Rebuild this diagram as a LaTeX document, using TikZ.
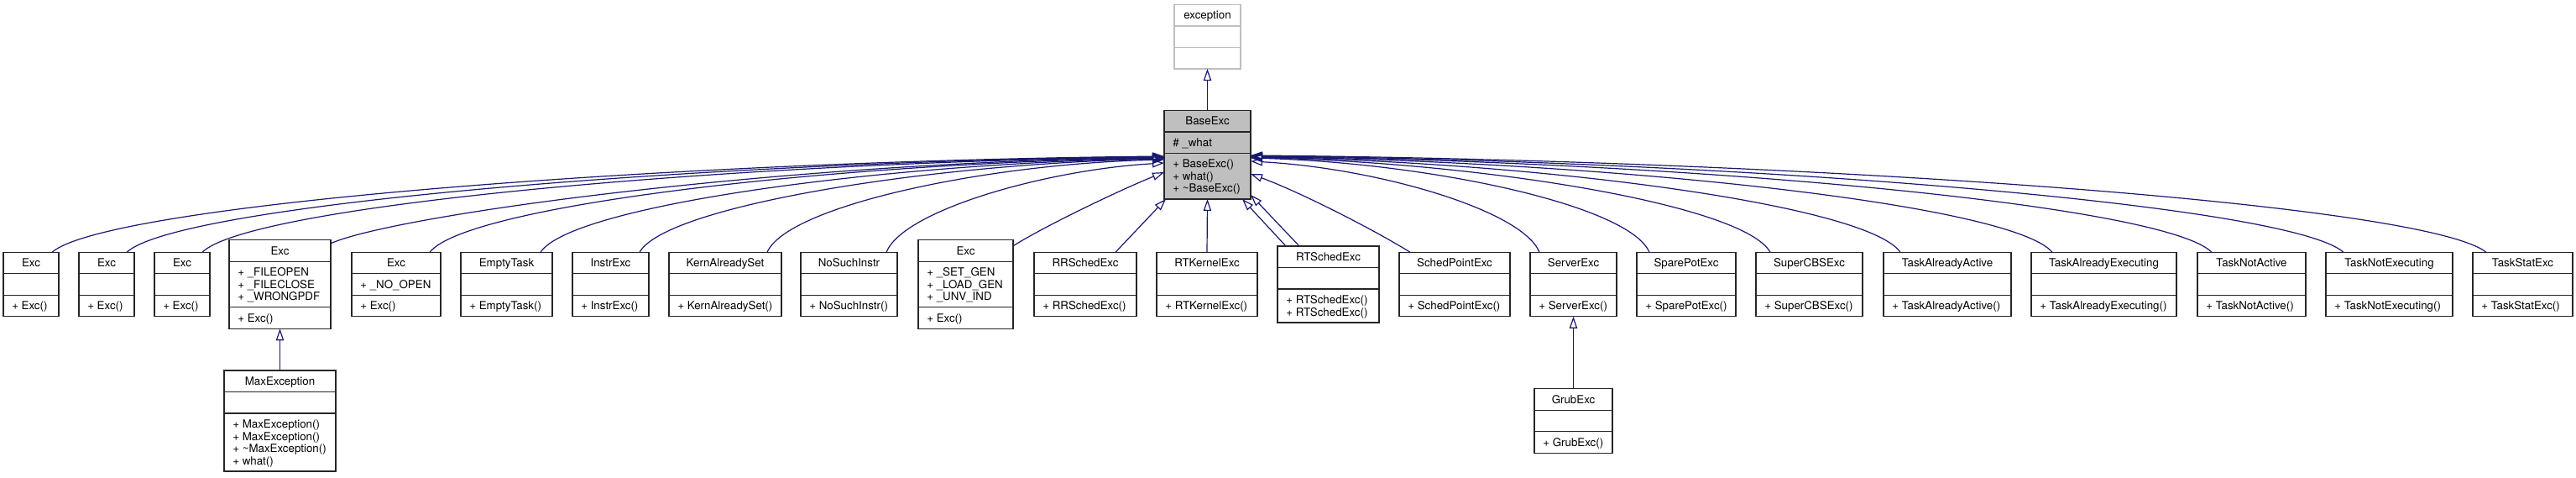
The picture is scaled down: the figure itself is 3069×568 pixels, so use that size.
\documentclass[tikz,border=0pt]{standalone}
\usepackage{fontspec}
\setmainfont{TeX Gyre Heros}
\usetikzlibrary{arrows.meta,calc}
\definecolor{edgeblue}{HTML}{191970}
\definecolor{grayfill}{HTML}{BFBFBF}
\tikzset{
  classbox/.style={draw=black!85, fill=white, line width=1pt, inner sep=0pt, outer sep=0pt},
  classline/.style={draw=black!85, line width=1pt},
  ghostbox/.style={draw=grayfill},
  basebox/.style={fill=grayfill},
  titletext/.style={anchor=base, inner sep=0pt, font=\fontsize{10}{12}\selectfont},
  linetext/.style={anchor=base west, inner sep=0pt, font=\fontsize{10}{12}\selectfont},
  inh/.style={draw=edgeblue, line width=0.9pt, -{Triangle[open,length=10.5pt,width=7pt]}},
}
% #1 style, #2 name, #3 cx, #4 cy, #5 width, #6 n attr lines, #7 n method lines, #8 title
\newcommand{\umlbox}[8]{%
  \pgfmathsetmacro\hA{(#6==0) ? 25.5 : 11+14.5*#6}%
  \pgfmathsetmacro\hM{(#7==0) ? 25.5 : 11+14.5*#7}%
  \pgfmathsetmacro\hT{25.5+\hA+\hM}%
  \node[classbox,#1,minimum width=#5*0.75pt,minimum height=\hT*0.75pt] (#2) at (#3,#4) {};
  \coordinate (#2-a) at ($(#2.north west)+(0,25.5)$);
  \coordinate (#2-m) at ($(#2-a)+(0,\hA)$);
  \draw[classline,#1,fill=none] (#2-a) -- ++(#5,0);
  \draw[classline,#1,fill=none] (#2-m) -- ++(#5,0);
  \node[titletext] (#2-t) at ($(#2.north)+(0,17.5)$) {#8};
}
% #1 row coordinate, #2 list of lines
\newcommand{\umllines}[2]{%
  \foreach \ln [count=\i from 0] in {#2} {
    \node[linetext] (#1-\i) at ($(#1)+(10,17.5+14.5*\i)$) {\ln};
  }%
}
\begin{document}
\begin{tikzpicture}[x=0.75pt,y=-0.75pt]
\fill[white] (0,0) rectangle (3069,568);
\useasboundingbox (0,0) rectangle (3069,568);

% top
\umlbox{ghostbox}{exception}{1438.5}{43.7}{79}{0}{0}{exception}
\umlbox{basebox}{base}{1438.5}{184.2}{103}{1}{3}{BaseExc}
\umllines{base-a}{\#\ \_what}
\umllines{base-m}{+ BaseExc(), + what(), + \textasciitilde BaseExc()}

% row of children
\umlbox{}{exc1}{37}{338.5}{66}{0}{1}{Exc}
\umllines{exc1-m}{+ Exc()}
\umlbox{}{exc2}{127}{338.5}{66}{0}{1}{Exc}
\umllines{exc2-m}{+ Exc()}
\umlbox{}{exc3}{217}{338.5}{66}{0}{1}{Exc}
\umllines{exc3-m}{+ Exc()}
\umlbox{}{exc4}{333.5}{338.5}{121}{3}{1}{Exc}
\umllines{exc4-a}{+ \_FILEOPEN, + \_FILECLOSE, + \_WRONGPDF}
\umllines{exc4-m}{+ Exc()}
\umlbox{}{exc5}{472}{338.5}{106}{1}{1}{Exc}
\umllines{exc5-a}{+ \_NO\_OPEN}
\umllines{exc5-m}{+ Exc()}
\umlbox{}{emptytask}{603.5}{338.5}{109}{0}{1}{EmptyTask}
\umllines{emptytask-m}{+ EmptyTask()}
\umlbox{}{instrexc}{727.5}{338.5}{91}{0}{1}{InstrExc}
\umllines{instrexc-m}{+ InstrExc()}
\umlbox{}{kern}{864}{338.5}{134}{0}{1}{KernAlreadySet}
\umllines{kern-m}{+ KernAlreadySet()}
\umlbox{}{nosuch}{1011.5}{338.5}{115}{0}{1}{NoSuchInstr}
\umllines{nosuch-m}{+ NoSuchInstr()}
\umlbox{}{exc6}{1150.5}{338.5}{113}{3}{1}{Exc}
\umllines{exc6-a}{+ \_SET\_GEN, + \_LOAD\_GEN, + \_UNV\_IND}
\umllines{exc6-m}{+ Exc()}
\umlbox{}{rrsched}{1293}{338.5}{122}{0}{1}{RRSchedExc}
\umllines{rrsched-m}{+ RRSchedExc()}
\umlbox{}{rtkernel}{1438}{338.5}{120}{0}{1}{RTKernelExc}
\umllines{rtkernel-m}{+ RTKernelExc()}
\umlbox{}{rtsched}{1582.5}{338.5}{121}{0}{2}{RTSchedExc}
\umllines{rtsched-m}{+ RTSchedExc(), + RTSchedExc()}
\umlbox{}{schedpoint}{1733}{338.5}{132}{0}{1}{SchedPointExc}
\umllines{schedpoint-m}{+ SchedPointExc()}
\umlbox{}{server}{1874.5}{338.5}{103}{0}{1}{ServerExc}
\umllines{server-m}{+ ServerExc()}
\umlbox{}{sparepot}{2009}{338.5}{118}{0}{1}{SparePotExc}
\umllines{sparepot-m}{+ SparePotExc()}
\umlbox{}{supercbs}{2155.5}{338.5}{127}{0}{1}{SuperCBSExc}
\umllines{supercbs-m}{+ SuperCBSExc()}
\umlbox{}{taa}{2320}{338.5}{152}{0}{1}{TaskAlreadyActive}
\umllines{taa-m}{+ TaskAlreadyActive()}
\umlbox{}{tae}{2506.5}{338.5}{173}{0}{1}{TaskAlreadyExecuting}
\umllines{tae-m}{+ TaskAlreadyExecuting()}
\umlbox{}{tna}{2682.5}{338.5}{129}{0}{1}{TaskNotActive}
\umllines{tna-m}{+ TaskNotActive()}
\umlbox{}{tne}{2846.5}{338.5}{151}{0}{1}{TaskNotExecuting}
\umllines{tne-m}{+ TaskNotExecuting()}
\umlbox{}{tse}{3005.5}{338.5}{119}{0}{1}{TaskStatExc}
\umllines{tse-m}{+ TaskStatExc()}

% bottom row
\umlbox{}{maxexc}{333.5}{501}{133}{0}{4}{MaxException}
\umllines{maxexc-m}{+ MaxException(), + MaxException(), + \textasciitilde MaxException(), + what()}
\umlbox{}{grub}{1874.5}{501}{93}{0}{1}{GrubExc}
\umllines{grub-m}{+ GrubExc()}

% inheritance connectors
\draw[inh] (base.north) -- (exception.south);
\draw[inh] (maxexc.north) -- (exc4.south);
\draw[inh] (grub.north) -- (server.south);

\draw[inh] ($(exc1.north west)+(58,0)$) .. controls +(66,-57) and +(-596,6) .. ($(base.west)+(0,1.8)$);
\draw[inh] ($(exc2.north west)+(57,0)$) .. controls +(62,-57) and +(-556,6) .. ($(base.west)+(0,2.3)$);
\draw[inh] ($(exc3.north west)+(57,0)$) .. controls +(57,-56) and +(-516,6) .. ($(base.west)+(0,2.8)$);
\draw[inh] ($(exc4.north east)+(0,4)$) .. controls +(80,-35) and +(-447,5) .. ($(base.west)+(0,3.3)$);
\draw[inh] ($(exc5.north west)+(93,0)$) .. controls +(44,-56) and +(-394,6) .. ($(base.west)+(0,3.8)$);
\draw[inh] ($(emptytask.north east)+(-14,0)$) .. controls +(37,-56) and +(-334,6) .. ($(base.west)+(0,4.3)$);
\draw[inh] ($(instrexc.north east)+(-11,0)$) .. controls +(31,-55) and +(-281,6) .. ($(base.west)+(0,4.8)$);
\draw[inh] ($(kern.north east)+(-17,0)$) .. controls +(24,-55) and +(-213,5) .. ($(base.west)+(0,5.8)$);
\draw[inh] ($(nosuch.north east)+(-13,0)$) .. controls +(20,-50) and +(-140,8) .. ($(base.west)+(0,9.8)$);
\draw[inh] ($(exc6.north east)+(0,7)$) .. controls +(40,-25) and +(-50,20) .. ($(base.west)+(0,20.8)$);
\draw[inh] ($(rrsched.north west)+(97,0)$) -- ($(base.south west)+(2,0)$);
\draw[inh] (rtkernel.north) -- (base.south);
\draw[inh] ($(rtsched.north west)+(10,0)$) -- ($(base.south east)+(-10,0)$);
\draw[inh] ($(rtsched.north west)+(26,0)$) -- ($(base.south east)+(0,-5)$);
\draw[inh] ($(schedpoint.north west)+(13,0)$) .. controls +(-40,-25) and +(60,22) .. ($(base.east)+(0,22.8)$);
\draw[inh] ($(server.north west)+(11,0)$) .. controls +(-20,-50) and +(150,8) .. ($(base.east)+(0,7.8)$);
\draw[inh] ($(sparepot.north west)+(15,0)$) .. controls +(-24,-56) and +(214,6) .. ($(base.east)+(0,3.8)$);
\draw[inh] ($(supercbs.north west)+(17,0)$) .. controls +(-31,-56) and +(279,6) .. ($(base.east)+(0,3.3)$);
\draw[inh] ($(taa.north west)+(20,0)$) .. controls +(-39,-56) and +(348,6) .. ($(base.east)+(0,2.8)$);
\draw[inh] ($(tae.north west)+(25,0)$) .. controls +(-48,-57) and +(430,6) .. ($(base.east)+(0,2.3)$);
\draw[inh] ($(tna.north west)+(17,0)$) .. controls +(-57,-57) and +(515,6) .. ($(base.east)+(0,1.8)$);
\draw[inh] ($(tne.north west)+(21,0)$) .. controls +(-65,-57) and +(586,6) .. ($(base.east)+(0,1.3)$);
\draw[inh] ($(tse.north west)+(16,0)$) .. controls +(-74,-58) and +(662,6) .. ($(base.east)+(0,0.8)$);
\end{tikzpicture}
\end{document}
